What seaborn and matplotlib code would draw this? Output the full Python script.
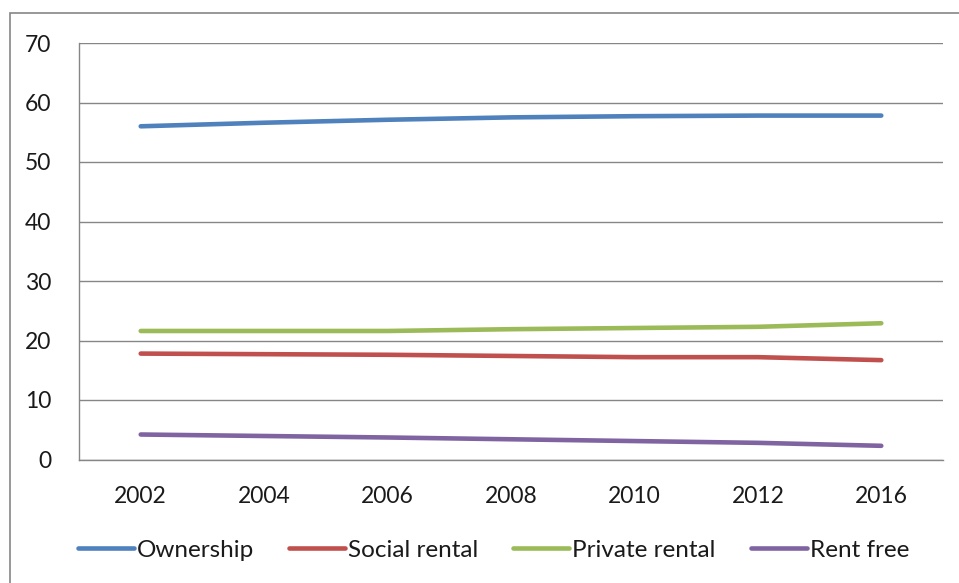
import matplotlib
matplotlib.use("Agg")
import matplotlib.pyplot as plt
import matplotlib.patches as mpatches
import seaborn as sns
import pandas as pd
import numpy as np

years = ["2002", "2004", "2006", "2008", "2010", "2012", "2016"]
ownership = [56.0, 56.6, 57.1, 57.5, 57.7, 57.8, 57.8]
social_rental = [17.8, 17.7, 17.6, 17.4, 17.2, 17.2, 16.7]
private_rental = [21.6, 21.6, 21.6, 21.9, 22.1, 22.3, 22.9]
rent_free = [4.2, 3.95, 3.7, 3.4, 3.1, 2.8, 2.3]

series_names = ["Ownership", "Social rental", "Private rental", "Rent free"]
colors = ["#4F81BD", "#C0504D", "#9BBB59", "#8064A2"]

rows = []
for name, vals in zip(series_names, [ownership, social_rental, private_rental, rent_free]):
    for i, (y, v) in enumerate(zip(years, vals)):
        rows.append({"idx": i, "year": y, "value": v, "series": name})
df = pd.DataFrame(rows)

sns.set_theme(style="white")
plt.rcParams["font.family"] = ["Lato", "DejaVu Sans"]

fig = plt.figure(figsize=(9.59, 5.83), dpi=100)
ax = fig.add_axes([79/959, 1-459.5/583, (943-79)/959, (459.5-43)/583])

sns.lineplot(data=df, x="idx", y="value", hue="series", hue_order=series_names,
             palette=colors, linewidth=3.3, ax=ax, legend=False,
             solid_capstyle="round")

ax.set_xlim(-0.5, len(years) - 0.5)
ax.set_ylim(0, 70)
ax.set_yticks(np.arange(0, 71, 10))
ax.set_xticks(np.arange(-0.5, len(years), 1.0))
ax.set_xticklabels([])
ax.set_xticks(np.arange(len(years)), minor=True)
ax.set_xticklabels(years, minor=True)
ax.tick_params(axis="x", which="major", length=8, width=1, color="#868686", direction="out")
ax.tick_params(axis="x", which="minor", length=0, labelsize=16.5, pad=19, labelcolor="#1a1a1a")
ax.tick_params(axis="y", length=7, width=1, color="#868686", direction="out", labelsize=16.5,
               pad=13, labelcolor="#1a1a1a")
ax.grid(axis="y", color="#868686", linewidth=1)
ax.grid(axis="x", visible=False)
ax.set_axisbelow(True)
for s in ["top", "right"]:
    ax.spines[s].set_visible(False)
for s in ["left", "bottom"]:
    ax.spines[s].set_color("#868686")
    ax.spines[s].set_linewidth(1)
ax.set_xlabel("")
ax.set_ylabel("")

handles = [plt.Line2D([0], [0], color=c, linewidth=3.3, solid_capstyle="round") for c in colors]
fig.legend(handles, series_names, loc="center", bbox_to_anchor=(0.5145, 1-550/583), ncol=4,
           frameon=False, fontsize=17.5, handlelength=2.3, handletextpad=0.12,
           columnspacing=1.45, labelcolor="#1a1a1a")

# outer chart border
rect = mpatches.Rectangle((10/959, 0 - 0.05), 1.0, 1 - 13/583 + 0.05, transform=fig.transFigure,
                          fill=False, edgecolor="#868686", linewidth=1.2)
fig.patches.append(rect)

fig.savefig("out.png", dpi=100)
